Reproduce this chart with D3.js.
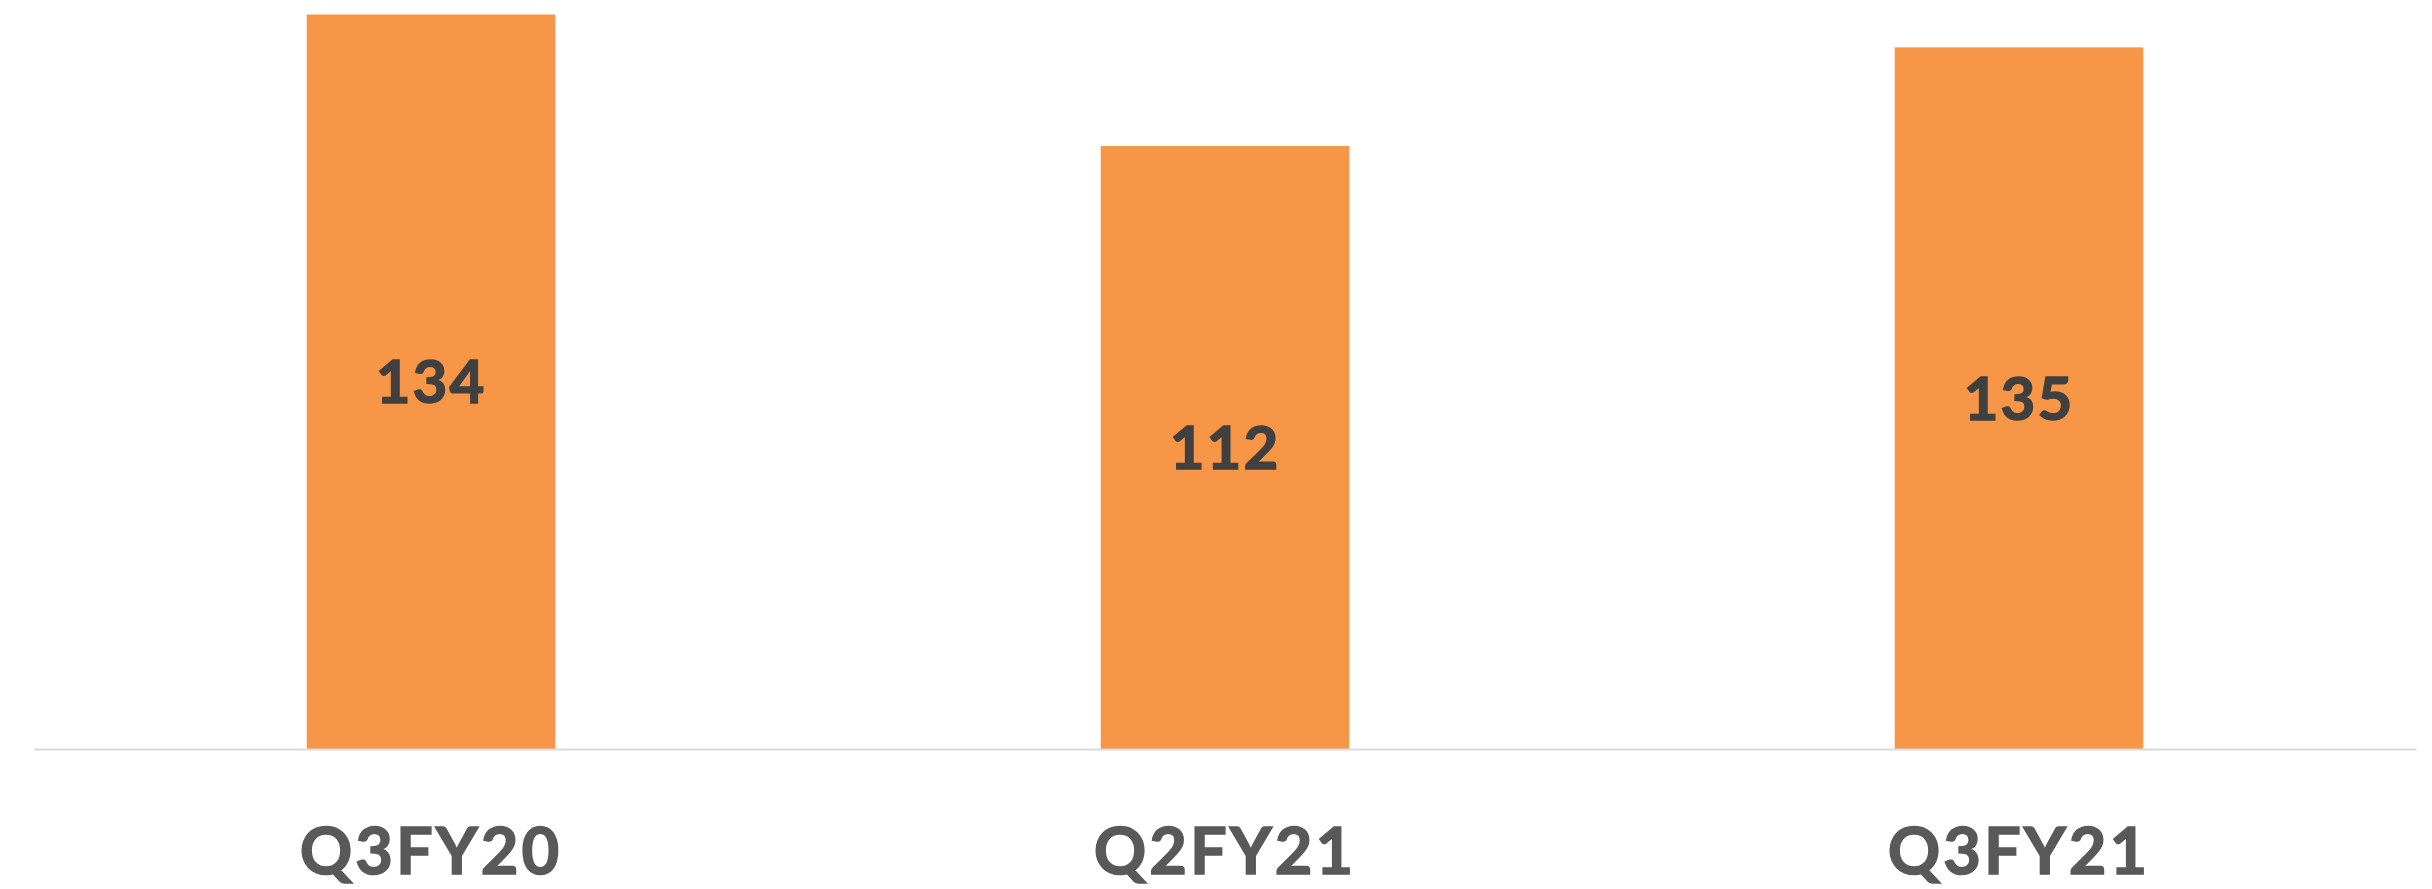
<!DOCTYPE html>
<html>
<head>
<meta charset="utf-8">
<script src="https://cdn.jsdelivr.net/npm/d3@7"></script>
<style>
  html, body { margin: 0; padding: 0; background: #fff; }
  svg { display: block; }
</style>
</head>
<body>
<div id="chart"></div>
<script>
// categories on the x axis
const categories = ["Q3FY20", "Q2FY21", "Q3FY21"];
// bar heights
const values = [134, 110, 128];
// data labels as printed on the bars
const labels = ["134", "112", "135"];

const width = 2432;
const height = 889;
const baseY = 749;

const x = d3.scaleBand()
  .domain(categories)
  .range([34, 2416])
  .paddingInner(0.687)
  .paddingOuter(0.3435);

const y = d3.scaleLinear()
  .domain([0, 134])
  .range([baseY, 14.5]);

const svg = d3.select("#chart")
  .append("svg")
  .attr("width", width)
  .attr("height", height)
  .attr("font-family", "Lato, 'Open Sans', sans-serif");

// bars
svg.append("g")
  .selectAll("rect")
  .data(values)
  .join("rect")
  .attr("x", (d, i) => x(categories[i]))
  .attr("y", (d) => y(d))
  .attr("width", x.bandwidth())
  .attr("height", (d) => baseY - y(d))
  .attr("fill", "#F79646");

// value labels, centred in each bar
svg.append("g")
  .selectAll("text")
  .data(values)
  .join("text")
  .attr("x", (d, i) => x(categories[i]) + x.bandwidth() / 2)
  .attr("y", (d) => (y(d) + baseY) / 2)
  .attr("dy", "0.36em")
  .attr("text-anchor", "middle")
  .attr("font-size", 60)
  .attr("font-weight", 700)
  .attr("letter-spacing", 2)
  .attr("fill", "#404040")
  .attr("stroke", "#404040")
  .attr("stroke-width", 1.5)
  .text((d, i) => labels[i]);

// category axis
const axis = svg.append("g")
  .attr("transform", `translate(0,${baseY})`)
  .call(d3.axisBottom(x).tickSize(0).tickSizeOuter(0));

axis.select(".domain")
  .attr("stroke", "#D9D9D9")
  .attr("stroke-width", 2);

axis.selectAll("text")
  .attr("y", 102)
  .attr("dy", "0.36em")
  .attr("font-family", "Lato, 'Open Sans', sans-serif")
  .attr("font-size", 65)
  .attr("font-weight", 700)
  .attr("letter-spacing", 3)
  .attr("fill", "#595959")
  .attr("stroke", "#595959")
  .attr("stroke-width", 1.5);
</script>
</body>
</html>
